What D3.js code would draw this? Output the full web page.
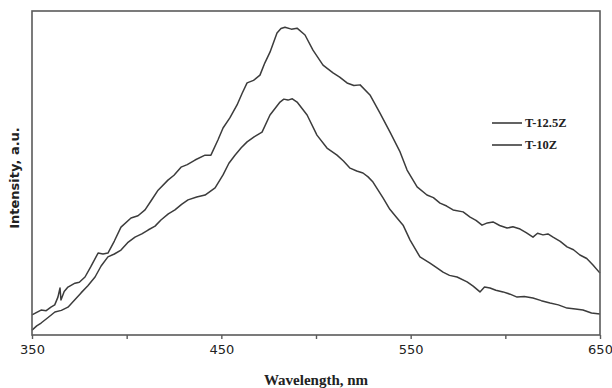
<!DOCTYPE html>
<html>
<head>
<meta charset="utf-8">
<script src="https://cdn.jsdelivr.net/npm/d3@7"></script>
<style>
  body { margin: 0; background: #fff; }
  svg { display: block; }
</style>
</head>
<body>
<svg id="chart"></svg>
<script>
// wavelength (nm) and intensity (a.u., 0-100 scale)
const wl125 = [350, 352.5, 354.8, 357.5, 360, 362, 363.7, 364.8, 365.3, 367, 369, 372.7, 375, 378, 381, 384.9, 387.5, 390.1, 393.5, 397, 402.3, 406, 409.7, 413, 416.6, 421.8, 425, 428.7, 432, 436.1, 441.4, 444.5, 448.2, 450.9, 454.5, 458.3, 461, 463.6, 467, 470.4, 473, 475.7, 479.4, 481.5, 483.6, 487, 490, 494.2, 498.4, 503.7, 509, 512.5, 516.4, 520, 523.3, 528.5, 533.8, 539.1, 544.4, 548.1, 553.4, 558.6, 562, 565.5, 569, 572.4, 577.7, 581.4, 584.5, 587.7, 590.5, 593.5, 597, 600.9, 604, 607.8, 611, 614.6, 617, 619.9, 622.5, 625.2, 629, 632.6, 636, 639.4, 643, 646.3, 650];
const int125 = [6.2, 7.0, 7.7, 7.5, 8.6, 9.3, 11.7, 14.5, 10.8, 13.4, 14.8, 16.0, 16.3, 17.9, 21.0, 25.3, 25.0, 25.3, 29.0, 33.3, 36.1, 36.8, 38.6, 41.5, 44.7, 47.8, 49.3, 51.8, 52.6, 54.0, 55.5, 55.5, 60.2, 63.9, 67.0, 71.0, 74.6, 77.8, 78.6, 80.2, 84.0, 87.3, 93.2, 94.6, 95.0, 94.4, 94.7, 92.6, 87.9, 83.3, 80.9, 79.6, 77.8, 77.0, 77.2, 74.1, 68.5, 62.6, 56.5, 50.9, 45.7, 43.2, 42.4, 40.7, 39.8, 38.6, 38.0, 36.4, 35.4, 33.9, 34.6, 34.9, 33.8, 33.0, 33.4, 32.7, 31.6, 30.2, 31.4, 30.9, 31.2, 30.2, 28.9, 27.2, 26.3, 24.7, 23.6, 21.6, 19.1];

const wl10 = [350, 352.5, 354.8, 358.5, 362.1, 365.5, 369, 372.5, 375.9, 379.5, 383.3, 386.5, 390.1, 393.5, 397, 400.5, 404.4, 408, 411.3, 415, 418.1, 422, 425.5, 429, 432.4, 437, 441.4, 446.7, 450.9, 454, 457.2, 460.5, 463.6, 467.5, 471.5, 475.7, 481, 483, 485.2, 487.5, 490, 495.3, 500.5, 505.8, 511.1, 514.5, 518, 521.5, 524.8, 527.5, 530.1, 535.4, 539, 542.8, 546, 549.7, 554.9, 560.2, 563.5, 567.1, 570.5, 574.5, 579.8, 583, 586.6, 589, 591.9, 595, 598.8, 602.5, 606.2, 610, 614.6, 619, 623.6, 628, 632.6, 637, 641, 645.5, 650];
const int10 = [1.5, 2.8, 3.7, 5.4, 7.1, 7.6, 8.6, 10.8, 13.0, 15.2, 17.9, 21.3, 24.1, 25.0, 26.2, 28.5, 30.2, 31.2, 32.4, 33.6, 35.5, 37.4, 38.6, 40.3, 41.7, 42.6, 43.2, 45.4, 49.4, 53.0, 55.5, 57.8, 59.6, 61.2, 62.6, 67.9, 71.9, 72.8, 72.5, 72.9, 71.9, 67.9, 61.7, 57.7, 55.5, 53.7, 51.5, 50.6, 50.0, 48.8, 47.2, 42.3, 38.8, 36.1, 33.9, 29.3, 24.1, 22.2, 20.9, 19.4, 18.4, 17.9, 16.4, 15.1, 13.3, 14.8, 14.5, 13.8, 13.3, 12.6, 11.7, 11.9, 11.4, 10.6, 9.9, 9.3, 8.3, 8.0, 7.7, 6.8, 6.5];

const xTicks = [350, 400, 450, 500, 550, 600, 650];
const xLabels = [350, 450, 550, 650];
const seriesNames = ["T-12.5Z", "T-10Z"];

const size = { width: 612, height: 388 };
const margin = { top: 11, right: 12, bottom: 53, left: 32 };
const LINE = "#3c3c3c";
const FRAME = "#5a5a5a";

const svg = d3.select("#chart").attr("width", size.width).attr("height", size.height);

const x = d3.scaleLinear().domain([350, 650]).range([margin.left, size.width - margin.right]);
const y = d3.scaleLinear().domain([0, 100]).range([size.height - margin.bottom, margin.top]);

const line = d3.line().x((d) => x(d[0])).y((d) => y(d[1]));

const series = [
  d3.zip(wl125, int125),
  d3.zip(wl10, int10),
];

series.forEach((s) => {
  svg.append("path")
    .datum(s)
    .attr("fill", "none")
    .attr("stroke", LINE)
    .attr("stroke-width", 1.5)
    .attr("stroke-linejoin", "round")
    .attr("d", line);
});

// frame
svg.append("rect")
  .attr("x", margin.left)
  .attr("y", margin.top)
  .attr("width", size.width - margin.left - margin.right)
  .attr("height", size.height - margin.top - margin.bottom)
  .attr("fill", "none")
  .attr("stroke", FRAME)
  .attr("stroke-width", 1.6);

// bottom axis
const xAxis = svg.append("g")
  .attr("transform", `translate(0, ${size.height - margin.bottom})`)
  .call(d3.axisBottom(x).tickValues(xTicks).tickSize(4).tickSizeOuter(0)
    .tickFormat((d) => (xLabels.includes(d) ? d : "")));
xAxis.select(".domain").remove();
xAxis.selectAll("line").attr("stroke", FRAME).attr("stroke-width", 1.4);
xAxis.selectAll("text")
  .attr("fill", "#222")
  .attr("dy", "0.95em")
  .style("font-family", "'DejaVu Sans', sans-serif")
  .style("font-size", "13px");

// axis titles
svg.append("text")
  .attr("x", (margin.left + size.width - margin.right) / 2)
  .attr("y", 385)
  .attr("text-anchor", "middle")
  .attr("fill", "#222")
  .style("font-family", "'Liberation Serif', serif")
  .style("font-weight", "bold")
  .style("font-size", "15px")
  .text("Wavelength, nm");

svg.append("text")
  .attr("transform", "translate(19, 178) rotate(-90)")
  .attr("text-anchor", "middle")
  .attr("fill", "#222")
  .style("font-family", "'DejaVu Sans', sans-serif")
  .style("font-weight", "bold")
  .style("font-size", "13px")
  .text("Intensity, a.u.");

// legend
seriesNames.forEach((name, i) => {
  const ly = 123 + i * 22;
  svg.append("line")
    .attr("x1", 492).attr("x2", 522)
    .attr("y1", ly).attr("y2", ly)
    .attr("stroke", LINE)
    .attr("stroke-width", 1.6);
  svg.append("text")
    .attr("x", 525)
    .attr("y", ly + 4)
    .attr("fill", "#222")
    .style("font-family", "'Liberation Serif', serif")
    .style("font-weight", "bold")
    .style("font-size", "12.5px")
    .text(name);
});
</script>
</body>
</html>
